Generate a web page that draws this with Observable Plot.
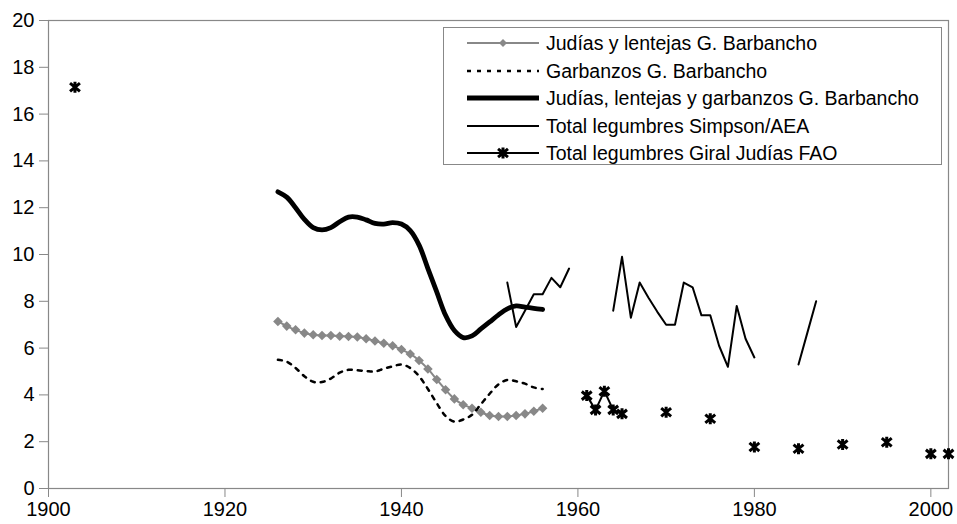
<!DOCTYPE html>
<html><head><meta charset="utf-8">
<script src="https://cdn.jsdelivr.net/npm/d3@7"></script>
<script src="https://cdn.jsdelivr.net/npm/@observablehq/plot@0.6"></script>
<style>
body{margin:0;background:#fff;font-family:"Liberation Sans",Arial,sans-serif}
#wrap{position:relative;width:957px;height:524px}
#legend{position:absolute;left:443px;top:27px;width:499px;height:138px;border:1px solid #888;background:#fff;box-sizing:border-box}
.row{position:absolute;left:0;height:28px;display:flex;align-items:center;font-size:19.5px;white-space:nowrap;color:#000}
.row svg{margin-left:23px;margin-right:7px}
</style>
</head><body>
<div id="wrap"><div id="legend"></div></div>
<script>
// ---- data ----
const barbanchoYears = [1926,1927,1928,1929,1930,1931,1932,1933,1934,1935,1936,1937,1938,1939,1940,1941,1942,1943,1944,1945,1946,1947,1948,1949,1950,1951,1952,1953,1954,1955,1956];
const judiasLentejas = [7.14,6.94,6.78,6.64,6.57,6.54,6.54,6.51,6.50,6.47,6.40,6.30,6.21,6.10,5.94,5.75,5.47,5.11,4.66,4.22,3.83,3.58,3.43,3.26,3.12,3.08,3.08,3.12,3.19,3.30,3.43];
const garbanzos = [5.50,5.42,5.15,4.80,4.56,4.55,4.70,4.95,5.07,5.05,5.02,5.00,5.12,5.22,5.30,5.15,4.80,4.25,3.65,3.10,2.86,2.95,3.15,3.60,4.05,4.45,4.64,4.58,4.48,4.32,4.25];
const totalBarbancho = [12.68,12.45,12.0,11.5,11.15,11.05,11.15,11.4,11.6,11.6,11.48,11.33,11.3,11.36,11.3,11.02,10.4,9.4,8.4,7.4,6.75,6.45,6.52,6.82,7.12,7.42,7.68,7.8,7.75,7.7,7.65];
const simpsonYears = [1952,1953,1954,1955,1956,1957,1958,1959,1960,1961,1962,1963,1964,1965,1966,1967,1968,1969,1970,1971,1972,1973,1974,1975,1976,1977,1978,1979,1980,1981,1982,1983,1984,1985,1986,1987];
const simpsonValues = [8.8,6.9,7.6,8.3,8.3,9.0,8.6,9.4,null,null,null,null,7.6,9.9,7.3,8.8,8.15,7.55,7.0,7.0,8.8,8.6,7.4,7.4,6.1,5.2,7.8,6.4,5.6,null,null,null,null,5.3,6.65,8.0];
const faoYears = [1903,1961,1962,1963,1964,1965,1970,1975,1980,1985,1990,1995,2000,2002];
const faoValues = [17.15,3.97,3.36,4.16,3.36,3.19,3.26,2.98,1.77,1.70,1.88,1.98,1.48,1.48];
const xTicks = [1900,1920,1940,1960,1980,2000];
const yTicks = [0,2,4,6,8,10,12,14,16,18,20];
const seriesNames = ["Judías y lentejas G. Barbancho","Garbanzos G. Barbancho","Judías, lentejas y garbanzos G. Barbancho","Total legumbres Simpson/AEA","Total legumbres Giral Judías FAO"];

// ---- tables ----
const barb = barbanchoYears.map((y,i)=>({year:y, jl:judiasLentejas[i], g:garbanzos[i], t:totalBarbancho[i]}));
const simp = simpsonYears.map((y,i)=>({year:y, v:simpsonValues[i]}));
let seg = 0;
const fao = faoYears.map((y,i)=>{ if (i>0 && y - faoYears[i-1] > 1) seg++; return {year:y, v:faoValues[i], seg}; });

const star = {
  draw(ctx, size){
    const r = Math.sqrt(size/Math.PI);
    ctx.moveTo(0,-r); ctx.lineTo(0,r);
    ctx.moveTo(-0.9*r,-0.75*r); ctx.lineTo(0.9*r,0.75*r);
    ctx.moveTo(-0.9*r,0.75*r); ctx.lineTo(0.9*r,-0.75*r);
  }
};

const chart = Plot.plot({
  width:957, height:524,
  marginLeft:48, marginRight:9, marginTop:20, marginBottom:36,
  style:{fontFamily:"'Liberation Sans', Arial, sans-serif", fontSize:"20px", background:"#fff", color:"#000", overflow:"visible"},
  x:{domain:[1900,2002]},
  y:{domain:[0,20]},
  marks:[
    Plot.frame({stroke:"#888", strokeWidth:1.2}),
    Plot.axisX({ticks:xTicks, tickFormat:d=>String(d), tickSize:9, tickPadding:4, stroke:"#888", fill:"#000", label:null, fontSize:20}),
    Plot.axisY({ticks:yTicks, tickSize:9, tickPadding:5, stroke:"#888", fill:"#000", label:null, fontSize:20}),
    Plot.line(barb,{x:"year", y:"jl", stroke:"#888", strokeWidth:2, curve:"catmull-rom"}),
    Plot.dot(barb,{x:"year", y:"jl", symbol:"diamond2", r:4.3, fill:"#888", stroke:"none"}),
    Plot.line(barb,{x:"year", y:"g", stroke:"#000", strokeWidth:2.5, strokeDasharray:"4,6", curve:"catmull-rom"}),
    Plot.line(barb,{x:"year", y:"t", stroke:"#000", strokeWidth:4.8, curve:"catmull-rom"}),
    Plot.line(simp,{x:"year", y:"v", stroke:"#000", strokeWidth:2}),
    Plot.line(fao,{x:"year", y:"v", z:"seg", stroke:"#000", strokeWidth:2}),
    Plot.dot(fao,{x:"year", y:"v", symbol:star, r:5.5, fill:"none", stroke:"#000", strokeWidth:3})
  ]
});
document.getElementById("wrap").prepend(chart);

// ---- legend ----
const legend = d3.select("#legend");
const rowTops = [1,29,56,84,111];
const swatchStyles = [
  {stroke:"#888", w:2, marker:"diamond"},
  {stroke:"#000", w:2.5, dash:"4,6"},
  {stroke:"#000", w:4.8},
  {stroke:"#000", w:2},
  {stroke:"#000", w:2, marker:"star"}
];
seriesNames.forEach((name,i)=>{
  const row = legend.append("div").attr("class","row").style("top", rowTops[i]+"px");
  const s = row.append("svg").attr("width",72).attr("height",20);
  const st = swatchStyles[i];
  s.append("line").attr("x1",0).attr("x2",72).attr("y1",10).attr("y2",10)
    .attr("stroke",st.stroke).attr("stroke-width",st.w).attr("stroke-dasharray",st.dash||null);
  if (st.marker==="diamond") s.append("path").attr("d","M36,6L40,10L36,14L32,10Z").attr("fill","#888");
  if (st.marker==="star") s.append("path").attr("transform","translate(36,10)")
    .attr("d", d3.symbol(star, 5.5*5.5*Math.PI)()).attr("fill","none").attr("stroke","#000").attr("stroke-width",3);
  row.append("span").text(name);
});
</script>
</body></html>
